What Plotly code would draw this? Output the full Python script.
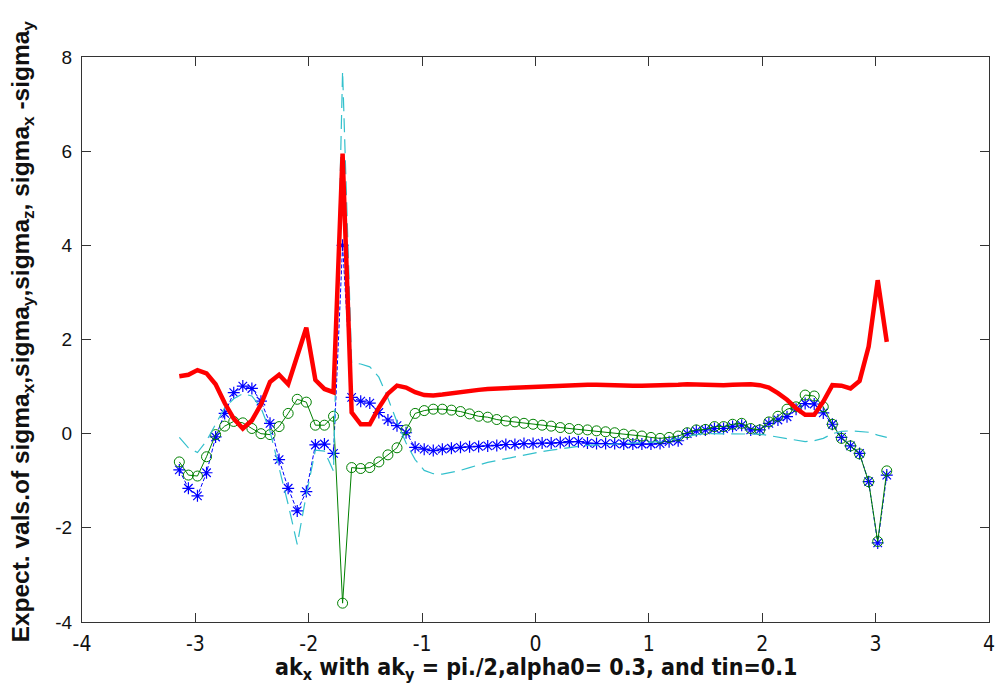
import numpy as np
import plotly.graph_objects as go

# sampling grid of ak_x: -pi : 0.08 : pi  (79 samples)
ak_x = np.round(-np.pi + 0.08 * np.arange(79), 4)

sigma_x = [-0.77, -1.16, -1.32, -0.83, -0.07, 0.43, 0.87, 1.01, 0.96, 0.69,
           0.22, -0.55, -1.16, -1.64, -1.23, -0.24, -0.22, -0.42, 4.0, 0.77,
           0.69, 0.65, 0.45, 0.29, 0.17, 0.02, -0.29, -0.33, -0.36, -0.33,
           -0.31, -0.29, -0.28, -0.27, -0.26, -0.25, -0.23, -0.23, -0.21, -0.21,
           -0.2, -0.2, -0.19, -0.17, -0.17, -0.2, -0.21, -0.21, -0.21, -0.22,
           -0.22, -0.22, -0.22, -0.21, -0.17, -0.15, 0.0, 0.06, 0.08, 0.11,
           0.11, 0.15, 0.18, 0.08, 0.08, 0.22, 0.29, 0.36, 0.52, 0.64,
           0.63, 0.44, 0.2, -0.08, -0.26, -0.42, -1.02, -2.32, -0.88]

sigma_y = [-0.6, -0.88, -0.9, -0.49, -0.02, 0.16, 0.26, 0.23, 0.11, 0.0,
           -0.02, 0.15, 0.43, 0.73, 0.67, 0.18, 0.18, 0.37, -3.6, -0.72,
           -0.74, -0.72, -0.6, -0.45, -0.3, 0.08, 0.43, 0.49, 0.52, 0.52,
           0.5, 0.47, 0.42, 0.37, 0.35, 0.3, 0.27, 0.25, 0.22, 0.2,
           0.18, 0.16, 0.13, 0.11, 0.09, 0.08, 0.06, 0.04, 0.02, -0.01,
           -0.03, -0.05, -0.08, -0.1, -0.08, -0.05, 0.02, 0.08, 0.09, 0.15,
           0.15, 0.2, 0.22, 0.11, 0.08, 0.25, 0.37, 0.52, 0.57, 0.82,
           0.8, 0.57, 0.2, -0.1, -0.26, -0.43, -1.02, -2.29, -0.79]

sigma_z = [-0.08, -0.3, -0.4, -0.15, 0.2, 0.55, 0.74, 0.85, 0.8, 0.55,
           0.05, -0.7, -1.5, -2.35, -1.3, -0.35, -0.37, -0.8, 7.7, 1.5,
           1.48, 1.42, 1.2, 0.75, 0.25, -0.2, -0.55, -0.78, -0.85, -0.86,
           -0.82, -0.78, -0.72, -0.66, -0.61, -0.57, -0.53, -0.49, -0.45, -0.41,
           -0.38, -0.35, -0.32, -0.29, -0.27, -0.25, -0.24, -0.23, -0.22, -0.21,
           -0.21, -0.2, -0.19, -0.17, -0.14, -0.1, -0.05, -0.02, 0.0, 0.0,
           0.0, -0.01, -0.01, 0.0, -0.01, -0.04, -0.07, -0.11, -0.14, -0.17,
           -0.15, -0.1, 0.0, 0.05, 0.06, 0.05, 0.03, -0.03, -0.08]

sigma_xy = [1.22, 1.25, 1.35, 1.28, 1.05, 0.65, 0.32, 0.11, 0.28, 0.62,
            1.1, 1.25, 1.05, 1.65, 2.25, 1.14, 0.95, 0.88, 5.95, 0.45,
            0.2, 0.2, 0.55, 0.85, 1.02, 0.98, 0.88, 0.82, 0.81, 0.83,
            0.86, 0.88, 0.9, 0.93, 0.95, 0.96, 0.97, 0.98, 0.99, 1.0,
            1.0, 1.01, 1.02, 1.02, 1.03, 1.04, 1.04, 1.03, 1.03, 1.03,
            1.02, 1.02, 1.02, 1.03, 1.03, 1.04, 1.05, 1.04, 1.03, 1.02,
            1.03, 1.04, 1.05, 1.05, 1.03, 0.98, 0.86, 0.72, 0.54, 0.4,
            0.4, 0.68, 1.03, 1.02, 0.96, 1.12, 1.85, 3.26, 1.95]

x_ticks = [-4, -3, -2, -1, 0, 1, 2, 3, 4]
x_tick_labels = ["-4", "-3", "-2", "-1", "0", "1", "2", "3", "4"]
y_ticks = [-4, -2, 0, 2, 4, 6, 8]
y_tick_labels = ["-4", "-2", "0", "2", "4", "6", "8"]

x_title = "ak<sub>x</sub> with ak<sub>y</sub> = pi./2,alpha0= 0.3, and tin=0.1"
y_title = ("Expect. vals.of sigma<sub>x</sub>,sigma<sub>y</sub>,sigma<sub>z</sub>, "
           "sigma<sub>x</sub> -sigma<sub>y</sub>")

NARROW = "Liberation Sans Narrow, DejaVu Sans Condensed, Arial Narrow, sans-serif"
HELV = "Liberation Sans, Arial, Helvetica, sans-serif"

fig = go.Figure()
fig.add_trace(go.Scatter(x=ak_x, y=sigma_x, mode="lines+markers",
                         line=dict(color="#0000FF", width=1, dash="4px,2px"),
                         marker=dict(symbol="asterisk-open", size=10,
                                     line=dict(color="#0000FF", width=1.2))))
fig.add_trace(go.Scatter(x=ak_x, y=sigma_y, mode="lines+markers",
                         line=dict(color="#008000", width=1),
                         marker=dict(symbol="circle-open", size=10,
                                     line=dict(color="#008000", width=1))))
fig.add_trace(go.Scatter(x=ak_x, y=sigma_z, mode="lines",
                         line=dict(color="#33C0CC", width=1.2, dash="14px,7px")))
fig.add_trace(go.Scatter(x=ak_x, y=sigma_xy, mode="lines",
                         line=dict(color="#FF0000", width=4.5)))

axis_common = dict(showline=True, linecolor="#333333", linewidth=1.3, mirror="ticks",
                   ticks="inside", ticklen=9, tickwidth=1.3, tickcolor="#333333",
                   showgrid=False, zeroline=False)

fig.update_layout(
    width=1006, height=695,
    margin=dict(l=82, r=11, t=57, b=73),
    paper_bgcolor="white", plot_bgcolor="white",
    showlegend=False,
    xaxis=dict(range=[-4, 4], tickvals=x_ticks, ticktext=x_tick_labels, ticklabelstandoff=3,
               tickfont=dict(family=NARROW, size=21, color="#111111"), **axis_common),
    yaxis=dict(range=[-4, 8], tickvals=y_ticks, ticktext=y_tick_labels, ticklabelstandoff=5,
               tickfont=dict(family=HELV, size=19, color="#111111"), **axis_common),
    annotations=[
        dict(text="<b>" + x_title + "</b>", xref="paper", yref="paper", x=0.5, y=0,
             xanchor="center", yanchor="middle", yshift=-47, showarrow=False,
             font=dict(family=NARROW, size=23, color="#111111")),
        dict(text="<b>" + y_title + "</b>", xref="paper", yref="paper", x=0, y=0.5,
             xanchor="center", yanchor="middle", xshift=-60, yshift=8, textangle=-90,
             showarrow=False, font=dict(family=HELV, size=24.5, color="#111111")),
    ],
)

fig.write_html("out.html")
